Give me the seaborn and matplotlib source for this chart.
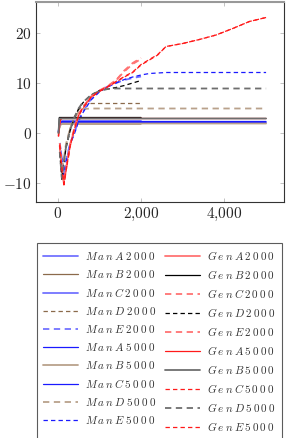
import matplotlib
matplotlib.use("Agg")
import matplotlib.pyplot as plt
import seaborn as sns
import pandas as pd

sns.set_theme(style="white")
plt.rcParams["mathtext.fontset"] = "cm"
plt.rcParams["font.family"] = ["DejaVu Serif"]

# ---- data ----
x_solid_2000 = [20, 40, 70, 100, 2000]
x_solid_5000 = [20, 40, 70, 100, 5000]

manA2000 = [0.2, 1.2, 2.0, 2.2, 2.2]
manB2000 = [0.0, 1.0, 1.6, 1.8, 1.8]
manC2000 = [0.3, 1.5, 2.2, 2.4, 2.4]
genA2000 = [-0.6, 1.5, 2.8, 3.0, 3.0]
genB2000 = [0.0, 3.1, 3.1, 3.1, 3.1]
manA5000 = [0.2, 1.2, 1.9, 2.1, 2.1]
manB5000 = [0.0, 1.0, 1.7, 1.9, 1.9]
manC5000 = [0.3, 1.4, 2.1, 2.3, 2.3]
genA5000 = [-0.6, 1.4, 2.7, 2.9, 2.9]
genB5000 = [0.0, 2.9, 2.9, 2.9, 2.9]

x_dash_2000 = [50, 100, 150, 200, 300, 400, 500, 600, 800, 1000, 1200, 1400, 1600, 1800, 2000]
x_dash_5000 = [50, 100, 150, 200, 300, 400, 500, 600, 800, 1000, 1200, 1400, 1600, 1800, 2000,
               2200, 2400, 2600, 2800, 3000, 3400, 3800, 4200, 4600, 5000]

manD2000 = [-3.0, -8.0, -5.5, -2.5, 1.0, 3.2, 4.6, 5.5, 5.9, 5.9, 5.9, 5.9, 5.9, 5.9, 5.9]
manE2000 = [-2.0, -5.0, -8.2, -5.5, -2.0, 0.0, 2.5, 4.2, 6.8, 8.4, 9.3, 10.0, 10.6, 11.0, 11.3]
genC2000 = [-2.5, -7.0, -10.2, -7.5, -2.5, 0.8, 3.5, 5.0, 7.2, 8.4, 9.3, 10.5, 12.5, 14.0, 15.0]
genD2000 = [-4.0, -9.4, -6.0, -3.0, 0.5, 3.0, 4.8, 6.0, 7.6, 8.5, 8.8, 9.1, 9.5, 10.0, 10.5]
genE2000 = [-2.0, -6.5, -9.8, -7.0, -2.2, 1.0, 3.7, 5.1, 7.3, 8.5, 9.4, 10.6, 12.3, 13.8, 14.8]

manD5000 = [-2.5, -7.0, -5.0, -2.2, 1.0, 3.0, 4.2, 4.8, 4.9, 4.9, 4.9, 4.9, 4.9, 4.9, 4.9,
            4.9, 4.9, 4.9, 4.9, 4.9, 4.9, 4.9, 4.9, 4.9, 4.9]
manE5000 = [-2.0, -5.2, -8.4, -5.8, -2.2, -0.2, 2.3, 4.0, 6.6, 8.2, 9.2, 10.0, 10.7, 11.2, 11.6,
            11.9, 12.0, 12.1, 12.1, 12.1, 12.1, 12.1, 12.1, 12.1, 12.1]
genC5000 = [-2.5, -7.2, -10.4, -7.6, -2.6, 0.7, 3.4, 4.9, 7.1, 8.3, 9.2, 10.2, 11.2, 12.1, 13.6,
            14.6, 15.6, 17.3, 17.6, 17.9, 18.7, 19.6, 20.9, 22.3, 23.1]
genD5000 = [-3.8, -9.0, -5.8, -2.8, 0.6, 3.1, 4.9, 6.1, 7.6, 8.4, 8.8, 8.9, 8.9, 8.9, 8.9,
            8.9, 8.9, 8.9, 8.9, 8.9, 8.9, 8.9, 8.9, 8.9, 8.9]
genE5000 = [-2.3, -7.0, -10.1, -7.4, -2.5, 0.8, 3.5, 5.0, 7.2, 8.4, 9.3, 10.3, 11.3, 12.2, 13.7,
            14.7, 15.7, 17.3, 17.6, 17.9, 18.7, 19.6, 20.9, 22.3, 23.1]

series = [
    # label, x, y, color, dashed, lw
    ("ManA2000", x_solid_2000, manA2000, "#7373ff", False, 1.3),
    ("ManB2000", x_solid_2000, manB2000, "#8b6a4b", False, 0.9),
    ("ManC2000", x_solid_2000, manC2000, "#7373ff", False, 1.3),
    ("ManD2000", x_dash_2000, manD2000, "#8b6a4b", True, 0.9),
    ("ManE2000", x_dash_2000, manE2000, "#7373ff", True, 1.3),
    ("ManA5000", x_solid_5000, manA5000, "#1a1aff", False, 0.9),
    ("ManB5000", x_solid_5000, manB5000, "#b9a18b", False, 1.3),
    ("ManC5000", x_solid_5000, manC5000, "#1a1aff", False, 0.9),
    ("ManD5000", x_dash_5000, manD5000, "#b9a18b", True, 1.3),
    ("ManE5000", x_dash_5000, manE5000, "#1a1aff", True, 0.9),
    ("GenA2000", x_solid_2000, genA2000, "#ff7373", False, 1.3),
    ("GenB2000", x_solid_2000, genB2000, "#000000", False, 0.9),
    ("GenC2000", x_dash_2000, genC2000, "#ff7373", True, 1.3),
    ("GenD2000", x_dash_2000, genD2000, "#000000", True, 0.9),
    ("GenE2000", x_dash_2000, genE2000, "#ff7373", True, 1.3),
    ("GenA5000", x_solid_5000, genA5000, "#ff1a1a", False, 0.9),
    ("GenB5000", x_solid_5000, genB5000, "#6e6e6e", False, 1.3),
    ("GenC5000", x_dash_5000, genC5000, "#ff1a1a", True, 0.9),
    ("GenD5000", x_dash_5000, genD5000, "#6e6e6e", True, 1.3),
    ("GenE5000", x_dash_5000, genE5000, "#ff1a1a", True, 0.9),
]

fig = plt.figure(figsize=(2.86, 4.38), dpi=100)
ax = fig.add_axes([36 / 286, (438 - 202) / 438, 248 / 286, 200 / 438])

handles = {}
for label, xs, ys, color, dashed, lw in series:
    df = pd.DataFrame({"x": xs, "y": ys})
    sns.lineplot(data=df, x="x", y="y", ax=ax, color=color, lw=lw,
                 linestyle=(0, (3.5, 2.5)) if dashed else "-", estimator=None,
                 sort=False, label=None)
    handles[label] = ax.lines[-1]

ax.set_xlim(-520, 5430)
ax.set_ylim(-13.8, 26.2)
ax.set_xticks([0, 2000, 4000])
ax.set_xticklabels([r"$0$", r"$2{,}000$", r"$4{,}000$"])
ax.set_yticks([-10, 0, 10, 20])
ax.set_yticklabels([r"$-10$", r"$0$", r"$10$", r"$20$"])
ax.set_xlabel("")
ax.set_ylabel("")
ax.tick_params(axis="both", which="both", direction="in", length=3, width=0.5,
               color="#aaaaaa", labelsize=11, top=True, right=True, bottom=True, left=True, pad=3)
for s in ax.spines.values():
    s.set_color("#333333")
    s.set_linewidth(0.8)
ax.spines["top"].set_color("#999999")
ax.spines["top"].set_linewidth(1.5)
ax.grid(False)


def spaced(name):
    return "$" + r"\:".join(name) + "$"


order = ["ManA2000", "ManB2000", "ManC2000", "ManD2000", "ManE2000",
         "ManA5000", "ManB5000", "ManC5000", "ManD5000", "ManE5000",
         "GenA2000", "GenB2000", "GenC2000", "GenD2000", "GenE2000",
         "GenA5000", "GenB5000", "GenC5000", "GenD5000", "GenE5000"]
leg = fig.legend([handles[k] for k in order], [spaced(k) for k in order],
                 ncol=2, loc="upper left", mode="expand",
                 bbox_to_anchor=(37 / 286, (438 - 436) / 438, 245 / 286, 193 / 438),
                 fontsize=8, frameon=True, fancybox=False, handlelength=3.15,
                 handletextpad=0.63, columnspacing=0.8, labelspacing=0.54,
                 borderpad=0.55, borderaxespad=0.0)
leg.get_frame().set_edgecolor("#333333")
leg.get_frame().set_linewidth(0.8)
for t in leg.get_texts():
    t.set_color("#333333")

fig.savefig("out.png", dpi=100)
